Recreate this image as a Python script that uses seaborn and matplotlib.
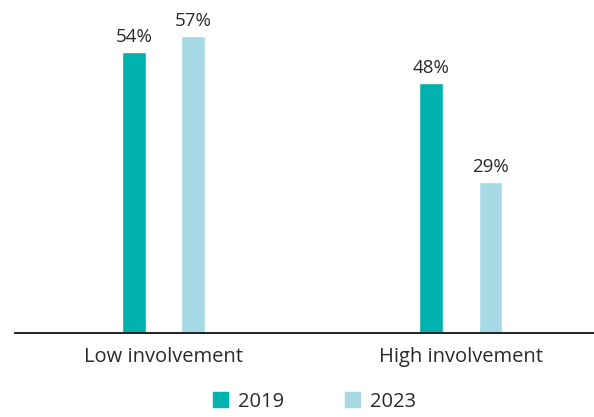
import pandas as pd
import matplotlib.pyplot as plt
import seaborn as sns

# Data
categories = ["Low involvement", "High involvement"]
years = ["2019", "2023"]
values_2019 = [54, 48]
values_2023 = [57, 29]

df = pd.DataFrame({
    "group": categories * 2,
    "year": [years[0]] * 2 + [years[1]] * 2,
    "value": values_2019 + values_2023,
})

colours = {"2019": "#00b2ae", "2023": "#a6d9e3"}
text_col = "#2a2a2a"

sns.set_theme(style="white")
plt.rcParams["font.family"] = ["Open Sans", "DejaVu Sans"]

fig = plt.figure(figsize=(5.94, 4.17), dpi=100)
ax = fig.add_axes([15 / 594, 84 / 417, 579 / 594, 333 / 417])

sns.barplot(data=df, x="group", y="value", hue="year", palette=colours,
            width=0.4, gap=0.6, ax=ax, legend=False, saturation=1)

# Value labels above bars
for cont in ax.containers:
    ax.bar_label(cont, labels=[f"{v:.0f}%" for v in cont.datavalues],
                 padding=4, fontsize=13.5, color=text_col)

ax.set_xlim(-0.5, 1.448)
ax.set_ylim(0, 63.9)
ax.set_xlabel("")
ax.set_ylabel("")
ax.set_yticks([])
ax.tick_params(axis="x", length=0, labelsize=14.5, labelcolor=text_col, pad=10)

sns.despine(ax=ax, top=True, right=True, left=True)
ax.spines["bottom"].set_color("#111111")
ax.spines["bottom"].set_linewidth(1.3)

# Legend (kept just inside the bottom edge)
handles = [plt.Rectangle((0, 0), 1, 1, color=colours[y]) for y in years]
fig.legend(handles, years, loc="center", bbox_to_anchor=(0.53, 0.037), ncol=2,
           frameon=False, fontsize=14.5, handlelength=0.75, handleheight=0.75,
           handletextpad=0.5, columnspacing=3.0, labelcolor=text_col)

fig.savefig("out.png", dpi=100)
